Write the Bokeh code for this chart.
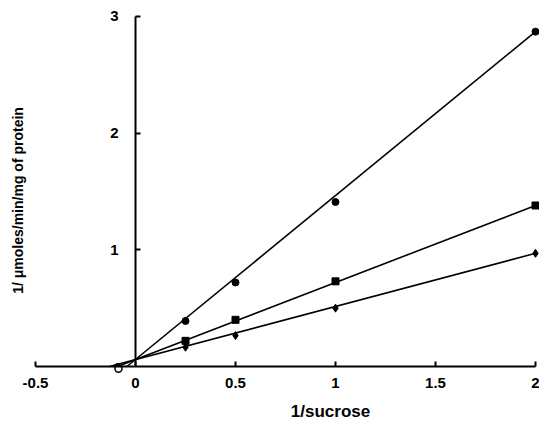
from bokeh.plotting import figure
from bokeh.models import Range1d, FixedTicker, Label
from bokeh.embed import file_html
from bokeh.resources import INLINE

# ---- data ----
inv_sucrose = [0.25, 0.5, 1.0, 2.0]
rate_circle = [0.39, 0.72, 1.41, 2.87]
rate_square = [0.22, 0.40, 0.73, 1.38]
rate_diamond = [0.165, 0.265, 0.50, 0.97]

# points on the x-axis (x-intercepts)
xint_filled_x = [-0.09]
xint_filled_y = [0.0]
xint_open_x = [-0.085]
xint_open_y = [-0.02]

# fitted lines (start at x-intercept, end at x = 2)
fit_circle_x = [-0.043, 2.0]
fit_circle_y = [0.0, 2.87]
fit_square_x = [-0.09, 2.0]
fit_square_y = [0.0, 1.38]
fit_diamond_x = [-0.13, 2.0]
fit_diamond_y = [0.0, 0.97]

x_ticks = [-0.5, 0, 0.5, 1, 1.5, 2]
x_tick_labels = ["-0.5", "0", "0.5", "1", "1.5", "2"]
y_ticks = [1, 2, 3]
y_tick_labels = ["1", "2", "3"]

x_title = "1/sucrose"
y_title = "1/ \u03bcmoles/min/mg of protein"

FONT = "Liberation Sans"

p = figure(width=539, height=421, output_backend="svg", toolbar_location=None,
           x_range=Range1d(-0.675, 2.02), y_range=Range1d(-0.4714, 3.137),
           min_border_left=0, min_border_right=0, min_border_top=0,
           min_border_bottom=0)
p.grid.visible = False
p.outline_line_color = None
p.background_fill_color = "white"

for ax in (p.xaxis[0], p.yaxis[0]):
    ax.fixed_location = 0
    ax.axis_line_width = 2
    ax.axis_line_color = "black"
    ax.major_tick_line_width = 2
    ax.major_tick_line_color = "black"
    ax.major_tick_in = 5
    ax.major_tick_out = 0
    ax.minor_tick_line_color = None
    ax.major_label_text_font = FONT
    ax.major_label_text_font_style = "bold"
    ax.major_label_text_color = "black"

p.xaxis.ticker = FixedTicker(ticks=x_ticks)
p.xaxis.major_label_overrides = dict(zip(x_ticks, x_tick_labels))
p.xaxis.bounds = (-0.5, 2)
p.xaxis.major_label_text_font_size = "15px"
p.xaxis.major_label_standoff = 11

p.yaxis.ticker = FixedTicker(ticks=y_ticks)
p.yaxis.major_label_overrides = dict(zip(y_ticks, y_tick_labels))
p.yaxis.bounds = (0, 3)
p.yaxis.major_label_text_font_size = "15px"
p.yaxis.major_label_standoff = 17

# fitted lines
for fx, fy in ((fit_circle_x, fit_circle_y), (fit_square_x, fit_square_y),
               (fit_diamond_x, fit_diamond_y)):
    p.line(fx, fy, line_color="black", line_width=1.6)

# data points
p.scatter(inv_sucrose, rate_circle, marker="circle", size=7, color="black")
p.scatter(inv_sucrose, rate_square, marker="square", size=7, color="black")
p.scatter(inv_sucrose, rate_diamond, marker="diamond", size=8, color="black")
p.scatter(xint_filled_x, xint_filled_y, marker="circle", size=6, color="black")
p.scatter(xint_open_x, xint_open_y, marker="circle", size=7, fill_color="white",
          line_color="black", line_width=1.5)

# axis titles
p.add_layout(Label(x=0.975, y=-0.383, text=x_title, text_align="center",
                   text_baseline="middle", text_font=FONT,
                   text_font_style="bold",
                   text_font_size="17px", text_color="black"))
p.add_layout(Label(x=-0.59, y=1.423, text=y_title, angle=90, angle_units="deg",
                   text_align="center", text_baseline="middle", text_font=FONT,
                   text_font_style="bold",
                   text_font_size="14px", text_color="black"))

open("out.html", "w").write(file_html(p, INLINE))
